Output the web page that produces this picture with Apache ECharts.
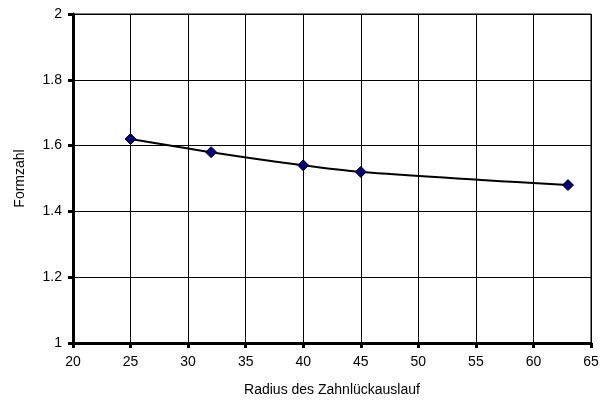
<!DOCTYPE html>
<html>
<head>
<meta charset="utf-8">
<script src="https://cdn.jsdelivr.net/npm/echarts@6/dist/echarts.min.js"></script>
<style>
  html, body { margin: 0; padding: 0; background: #fff; }
  #chart { width: 606px; height: 406px; }
</style>
</head>
<body>
<div id="chart"></div>
<script>
// Radius -> Formzahl
const radius = [25, 32, 40, 45, 63];
const formzahl = [1.62, 1.58, 1.54, 1.52, 1.48];

const xTitle = 'Radius des Zahnlückauslauf';
const yTitle = 'Formzahl';

const myChart = echarts.init(document.getElementById('chart'));

const font = 'Liberation Sans, Arial, sans-serif';

let option = {
  animation: false,
  grid: {
    left: 73, right: 15, top: 14, bottom: 63,
    show: true,
    borderColor: '#000',
    borderWidth: 1
  },
  xAxis: {
    type: 'value',
    min: 20, max: 65, interval: 5,
    name: xTitle,
    nameLocation: 'middle',
    nameGap: 40,
    nameTextStyle: { color: '#000', fontSize: 14, fontFamily: font },
    axisLine: { lineStyle: { color: '#000', width: 3 } },
    axisTick: { length: 5, lineStyle: { color: '#000', width: 3 } },
    axisLabel: { color: '#000', fontSize: 14, fontFamily: font, margin: 12 },
    splitLine: { lineStyle: { color: '#000', width: 1 } }
  },
  yAxis: {
    type: 'value',
    min: 1, max: 2, interval: 0.2,
    name: yTitle,
    nameLocation: 'middle',
    nameGap: 46,
    nameTextStyle: { color: '#000', fontSize: 14, fontFamily: font },
    axisLine: { lineStyle: { color: '#000', width: 3 } },
    axisTick: { length: 5, lineStyle: { color: '#000', width: 3 } },
    axisLabel: { color: '#000', fontSize: 14, fontFamily: font, margin: 11 },
    splitLine: { lineStyle: { color: '#000', width: 1 } }
  },
  series: [{
    type: 'line',
    data: radius.map((r, i) => [r, formzahl[i]]),
    smooth: 0.3,
    symbol: 'diamond',
    symbolSize: 11,
    lineStyle: { color: '#000', width: 2 },
    itemStyle: { color: '#000080', borderColor: '#000', borderWidth: 1 },
    z: 5
  }]
};

option && myChart.setOption(option);
</script>
</body>
</html>
